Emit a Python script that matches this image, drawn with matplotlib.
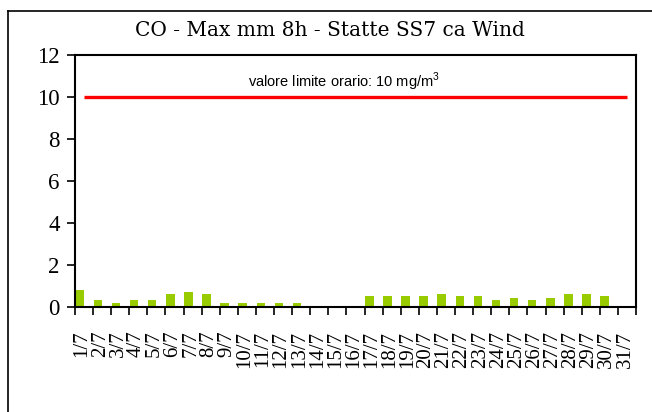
import matplotlib
matplotlib.use("Agg")
import matplotlib.pyplot as plt
from matplotlib.lines import Line2D
from matplotlib import transforms
import numpy as np

# Data
days = [f"{d}/7" for d in range(1, 32)]
co_values = [0.8, 0.3, 0.2, 0.3, 0.3, 0.6, 0.7, 0.6, 0.2, 0.2,
             0.2, 0.2, 0.2, 0.0, 0.0, 0.0, 0.5, 0.5, 0.5, 0.5,
             0.6, 0.5, 0.5, 0.3, 0.4, 0.3, 0.4, 0.6, 0.6, 0.5, 0.0]
limit_value = 10
yticks = [0, 2, 4, 6, 8, 10, 12]
title = "CO - Max mm 8h - Statte SS7 ca Wind"
limit_label = "valore limite orario: 10 mg/m$^3$"

plt.rcParams["font.family"] = ["Liberation Serif", "DejaVu Serif"]
plt.rcParams["mathtext.fontset"] = "custom"
plt.rcParams["mathtext.rm"] = "Liberation Sans"

W, H = 652, 412
fig = plt.figure(figsize=(W / 100, H / 100), dpi=100)
fig.patch.set_facecolor("white")

# outer frame (left and top border visible)
fig.add_artist(Line2D([8 / W, 8 / W], [0, 1 - 11 / H], transform=fig.transFigure,
                      color="black", lw=1.2))
fig.add_artist(Line2D([8 / W, 1], [1 - 11 / H, 1 - 11 / H], transform=fig.transFigure,
                      color="black", lw=1.2))

left, right, top, bottom = 75 / W, 636 / W, 1 - 55 / H, 1 - 306.7 / H
ax = fig.add_axes([left, bottom, right - left, top - bottom])

n = len(days)
idx = np.arange(n)
centers = idx + 0.5

ax.bar(idx + 0.03, co_values, width=0.47, align="edge", color="#99CC00",
       edgecolor="none", zorder=2)
ax.plot([centers[0], centers[-1]], [limit_value, limit_value], color="#FF0000",
        lw=2.4, solid_capstyle="butt", zorder=3)

ax.set_xlim(0, n)
ax.set_ylim(0, 12)

for s in ax.spines.values():
    s.set_linewidth(1.5)
    s.set_color("black")

ax.set_yticks(yticks)
ax.set_yticklabels([str(v) for v in yticks], fontsize=16.5)
ax.tick_params(axis="y", direction="out", length=6, width=1.2, pad=5)

# x ticks at category boundaries, labels at category centres
ax.set_xticks(np.arange(n + 1))
ax.set_xticklabels([])
ax.tick_params(axis="x", direction="out", length=6, width=1.2)

trans = transforms.blended_transform_factory(ax.transData, ax.transAxes) + \
    transforms.ScaledTranslation(-2 / 100, -24 / 100, fig.dpi_scale_trans)
for c, lab in zip(centers, days):
    ax.text(c, 0, lab, transform=trans, rotation=90, ha="center", va="top",
            fontsize=15, clip_on=False)

ax.text(0.48, 0.895, limit_label, transform=ax.transAxes, ha="center", va="center",
        family="Liberation Sans", fontsize=10.5)

fig.text(330 / W, 1 - 31 / H, title, ha="center", va="center",
         family="DejaVu Serif", fontsize=14.5)

fig.savefig("out.png", dpi=100)
